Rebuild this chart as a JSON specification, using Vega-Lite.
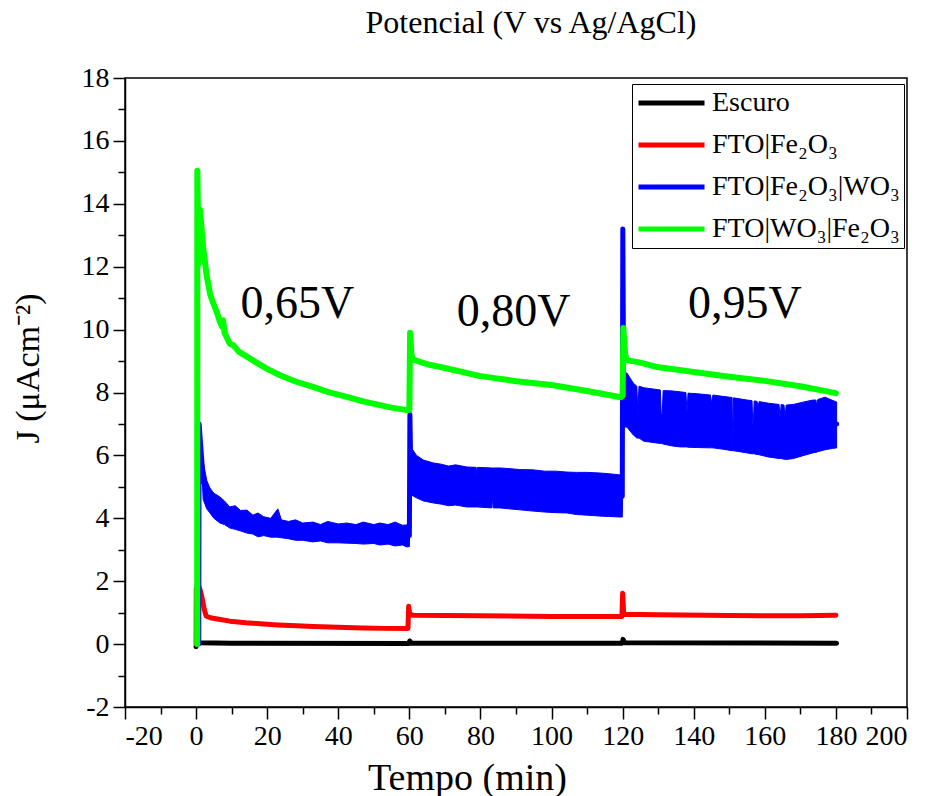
{
  "$schema": "https://vega.github.io/schema/vega-lite/v6.json",
  "width": 782,
  "height": 629,
  "autosize": {"type": "none"},
  "padding": {"left": 125, "top": 78, "right": 23, "bottom": 89},
  "background": "white",
  "config": {"view": {"stroke": "black", "strokeWidth": 1.5}, "font": "Liberation Serif"},
  "title": {"text": "Potencial (V vs Ag/AgCl)", "font": "Liberation Serif", "fontSize": 32, "fontWeight": "normal", "color": "black", "anchor": "middle", "frame": "group", "dx": 15, "offset": -1, "baseline": "alphabetic"},
  "datasets": {
    "lines": [
      {"s": "Escuro", "t": 0, "y": -0.08}, {"s": "Escuro", "t": 0.3, "y": 0.1}, {"s": "Escuro", "t": 1, "y": 0.04}, {"s": "Escuro", "t": 10, "y": 0.03}, {"s": "Escuro", "t": 59.9, "y": 0.02}, {"s": "Escuro", "t": 60.1, "y": 0.1}, {"s": "Escuro", "t": 60.6, "y": 0.03}, {"s": "Escuro", "t": 119.9, "y": 0.03}, {"s": "Escuro", "t": 120.1, "y": 0.15}, {"s": "Escuro", "t": 120.6, "y": 0.04}, {"s": "Escuro", "t": 180.2, "y": 0.03},
      {"s": "FTO|Fe₂O₃", "t": 0, "y": 0.0}, {"s": "FTO|Fe₂O₃", "t": 0.05, "y": 1.75}, {"s": "FTO|Fe₂O₃", "t": 0.5, "y": 1.92}, {"s": "FTO|Fe₂O₃", "t": 1.2, "y": 1.7}, {"s": "FTO|Fe₂O₃", "t": 1.8, "y": 1.4}, {"s": "FTO|Fe₂O₃", "t": 2.3, "y": 1.1}, {"s": "FTO|Fe₂O₃", "t": 2.8, "y": 0.9}, {"s": "FTO|Fe₂O₃", "t": 3.3, "y": 0.87}, {"s": "FTO|Fe₂O₃", "t": 4, "y": 0.84}, {"s": "FTO|Fe₂O₃", "t": 6, "y": 0.8}, {"s": "FTO|Fe₂O₃", "t": 9.5, "y": 0.73}, {"s": "FTO|Fe₂O₃", "t": 14, "y": 0.68}, {"s": "FTO|Fe₂O₃", "t": 18.9, "y": 0.64}, {"s": "FTO|Fe₂O₃", "t": 23, "y": 0.61}, {"s": "FTO|Fe₂O₃", "t": 28.3, "y": 0.58}, {"s": "FTO|Fe₂O₃", "t": 33, "y": 0.56}, {"s": "FTO|Fe₂O₃", "t": 37.7, "y": 0.54}, {"s": "FTO|Fe₂O₃", "t": 42, "y": 0.53}, {"s": "FTO|Fe₂O₃", "t": 47, "y": 0.51}, {"s": "FTO|Fe₂O₃", "t": 53, "y": 0.5}, {"s": "FTO|Fe₂O₃", "t": 59.6, "y": 0.5}, {"s": "FTO|Fe₂O₃", "t": 59.8, "y": 1.2}, {"s": "FTO|Fe₂O₃", "t": 60.1, "y": 0.95}, {"s": "FTO|Fe₂O₃", "t": 61, "y": 0.92}, {"s": "FTO|Fe₂O₃", "t": 80, "y": 0.9}, {"s": "FTO|Fe₂O₃", "t": 100, "y": 0.88}, {"s": "FTO|Fe₂O₃", "t": 119.8, "y": 0.88}, {"s": "FTO|Fe₂O₃", "t": 120, "y": 1.62}, {"s": "FTO|Fe₂O₃", "t": 120.3, "y": 0.95}, {"s": "FTO|Fe₂O₃", "t": 130, "y": 0.93}, {"s": "FTO|Fe₂O₃", "t": 150, "y": 0.91}, {"s": "FTO|Fe₂O₃", "t": 170, "y": 0.9}, {"s": "FTO|Fe₂O₃", "t": 180, "y": 0.92},
      {"s": "FTO|Fe₂O₃|WO₃", "t": 0.75, "y": 0}, {"s": "FTO|Fe₂O₃|WO₃", "t": 0.85, "y": 7.0}, {"s": "FTO|Fe₂O₃|WO₃", "t": 1.3, "y": 6.3}, {"s": "FTO|Fe₂O₃|WO₃", "t": 2, "y": 5.2}, {"s": "FTO|Fe₂O₃|WO₃", "t": 3.9, "y": 4.55}, {"s": "FTO|Fe₂O₃|WO₃", "t": 6.7, "y": 4.25}, {"s": "FTO|Fe₂O₃|WO₃", "t": 14, "y": 3.9}, {"s": "FTO|Fe₂O₃|WO₃", "t": 30, "y": 3.6}, {"s": "FTO|Fe₂O₃|WO₃", "t": 60, "y": 3.45}, {"s": "FTO|Fe₂O₃|WO₃", "t": 60.15, "y": 7.3}, {"s": "FTO|Fe₂O₃|WO₃", "t": 60.4, "y": 5.6}, {"s": "FTO|Fe₂O₃|WO₃", "t": 66.7, "y": 5.1}, {"s": "FTO|Fe₂O₃|WO₃", "t": 90, "y": 4.9}, {"s": "FTO|Fe₂O₃|WO₃", "t": 119.9, "y": 4.7}, {"s": "FTO|Fe₂O₃|WO₃", "t": 120.05, "y": 13.2}, {"s": "FTO|Fe₂O₃|WO₃", "t": 120.3, "y": 7.8}, {"s": "FTO|Fe₂O₃|WO₃", "t": 130, "y": 7.25}, {"s": "FTO|Fe₂O₃|WO₃", "t": 150, "y": 7.0}, {"s": "FTO|Fe₂O₃|WO₃", "t": 166, "y": 6.75}, {"s": "FTO|Fe₂O₃|WO₃", "t": 180.2, "y": 7.0},
      {"s": "FTO|WO₃|Fe₂O₃", "t": 0.3, "y": 0.0}, {"s": "FTO|WO₃|Fe₂O₃", "t": 0.35, "y": 15.05}, {"s": "FTO|WO₃|Fe₂O₃", "t": 0.7, "y": 12.1}, {"s": "FTO|WO₃|Fe₂O₃", "t": 1.1, "y": 13.8}, {"s": "FTO|WO₃|Fe₂O₃", "t": 2, "y": 12.6}, {"s": "FTO|WO₃|Fe₂O₃", "t": 3, "y": 11.7}, {"s": "FTO|WO₃|Fe₂O₃", "t": 4, "y": 11.1}, {"s": "FTO|WO₃|Fe₂O₃", "t": 4.85, "y": 10.84}, {"s": "FTO|WO₃|Fe₂O₃", "t": 6, "y": 10.5}, {"s": "FTO|WO₃|Fe₂O₃", "t": 6.7, "y": 10.25}, {"s": "FTO|WO₃|Fe₂O₃", "t": 7.3, "y": 10.1}, {"s": "FTO|WO₃|Fe₂O₃", "t": 7.6, "y": 10.3}, {"s": "FTO|WO₃|Fe₂O₃", "t": 8, "y": 9.9}, {"s": "FTO|WO₃|Fe₂O₃", "t": 9.5, "y": 9.55}, {"s": "FTO|WO₃|Fe₂O₃", "t": 10.5, "y": 9.5}, {"s": "FTO|WO₃|Fe₂O₃", "t": 12, "y": 9.3}, {"s": "FTO|WO₃|Fe₂O₃", "t": 14.2, "y": 9.15}, {"s": "FTO|WO₃|Fe₂O₃", "t": 17, "y": 8.95}, {"s": "FTO|WO₃|Fe₂O₃", "t": 20, "y": 8.75}, {"s": "FTO|WO₃|Fe₂O₃", "t": 23.6, "y": 8.55}, {"s": "FTO|WO₃|Fe₂O₃", "t": 28, "y": 8.35}, {"s": "FTO|WO₃|Fe₂O₃", "t": 32.9, "y": 8.18}, {"s": "FTO|WO₃|Fe₂O₃", "t": 37, "y": 8.02}, {"s": "FTO|WO₃|Fe₂O₃", "t": 42.4, "y": 7.86}, {"s": "FTO|WO₃|Fe₂O₃", "t": 47, "y": 7.72}, {"s": "FTO|WO₃|Fe₂O₃", "t": 51.7, "y": 7.6}, {"s": "FTO|WO₃|Fe₂O₃", "t": 55, "y": 7.52}, {"s": "FTO|WO₃|Fe₂O₃", "t": 59.3, "y": 7.44}, {"s": "FTO|WO₃|Fe₂O₃", "t": 60.0, "y": 7.45}, {"s": "FTO|WO₃|Fe₂O₃", "t": 60.2, "y": 9.9}, {"s": "FTO|WO₃|Fe₂O₃", "t": 60.6, "y": 9.2}, {"s": "FTO|WO₃|Fe₂O₃", "t": 61, "y": 9.05}, {"s": "FTO|WO₃|Fe₂O₃", "t": 65, "y": 8.9}, {"s": "FTO|WO₃|Fe₂O₃", "t": 70, "y": 8.78}, {"s": "FTO|WO₃|Fe₂O₃", "t": 80, "y": 8.52}, {"s": "FTO|WO₃|Fe₂O₃", "t": 90, "y": 8.36}, {"s": "FTO|WO₃|Fe₂O₃", "t": 100, "y": 8.24}, {"s": "FTO|WO₃|Fe₂O₃", "t": 110, "y": 8.05}, {"s": "FTO|WO₃|Fe₂O₃", "t": 119.5, "y": 7.85}, {"s": "FTO|WO₃|Fe₂O₃", "t": 120.0, "y": 7.9}, {"s": "FTO|WO₃|Fe₂O₃", "t": 120.2, "y": 10.05}, {"s": "FTO|WO₃|Fe₂O₃", "t": 120.7, "y": 9.2}, {"s": "FTO|WO₃|Fe₂O₃", "t": 121.2, "y": 9.03}, {"s": "FTO|WO₃|Fe₂O₃", "t": 125, "y": 8.95}, {"s": "FTO|WO₃|Fe₂O₃", "t": 129.7, "y": 8.81}, {"s": "FTO|WO₃|Fe₂O₃", "t": 140, "y": 8.65}, {"s": "FTO|WO₃|Fe₂O₃", "t": 150, "y": 8.5}, {"s": "FTO|WO₃|Fe₂O₃", "t": 160, "y": 8.37}, {"s": "FTO|WO₃|Fe₂O₃", "t": 170, "y": 8.2}, {"s": "FTO|WO₃|Fe₂O₃", "t": 180, "y": 7.98}
    ],
    "band": [
      {"t": 1.6, "y": 5.6, "hi": 6.3}, {"t": 2.0, "y": 4.6, "hi": 5.8}, {"t": 3.0, "y": 4.3, "hi": 5.2}, {"t": 3.9, "y": 4.17, "hi": 4.96}, {"t": 5.0, "y": 4.0, "hi": 4.8}, {"t": 6.7, "y": 3.85, "hi": 4.68}, {"t": 8.0, "y": 3.8, "hi": 4.55}, {"t": 9.5, "y": 3.69, "hi": 4.36}, {"t": 11, "y": 3.65, "hi": 4.4}, {"t": 12.5, "y": 3.6, "hi": 4.25}, {"t": 14.3, "y": 3.53, "hi": 4.26}, {"t": 16, "y": 3.5, "hi": 4.1}, {"t": 17.4, "y": 3.41, "hi": 4.17}, {"t": 19, "y": 3.45, "hi": 4.05}, {"t": 21, "y": 3.4, "hi": 4.0}, {"t": 23, "y": 3.4, "hi": 4.3}, {"t": 24, "y": 3.38, "hi": 3.95}, {"t": 26, "y": 3.35, "hi": 3.9}, {"t": 28, "y": 3.3, "hi": 3.95}, {"t": 30, "y": 3.3, "hi": 3.85}, {"t": 32.9, "y": 3.25, "hi": 3.88}, {"t": 35, "y": 3.28, "hi": 3.8}, {"t": 37, "y": 3.22, "hi": 3.9}, {"t": 40, "y": 3.22, "hi": 3.82}, {"t": 42.4, "y": 3.21, "hi": 3.85}, {"t": 45, "y": 3.2, "hi": 3.8}, {"t": 47, "y": 3.18, "hi": 3.88}, {"t": 50, "y": 3.2, "hi": 3.8}, {"t": 51.7, "y": 3.15, "hi": 3.85}, {"t": 54, "y": 3.18, "hi": 3.8}, {"t": 56, "y": 3.12, "hi": 3.88}, {"t": 58, "y": 3.15, "hi": 3.78}, {"t": 59.3, "y": 3.09, "hi": 3.79}, {"t": 60.0, "y": 3.1, "hi": 3.8},
      {"t": 60.3, "y": 4.74, "hi": 6.5}, {"t": 60.6, "y": 4.74, "hi": 6.24}, {"t": 62, "y": 4.65, "hi": 6.0}, {"t": 64, "y": 4.55, "hi": 5.85}, {"t": 66.7, "y": 4.49, "hi": 5.76}, {"t": 69, "y": 4.45, "hi": 5.72}, {"t": 71, "y": 4.4, "hi": 5.66}, {"t": 73, "y": 4.42, "hi": 5.7}, {"t": 76.2, "y": 4.36, "hi": 5.63}, {"t": 78.8, "y": 4.36, "hi": 5.62}, {"t": 79.0, "y": 4.36, "hi": 5.38}, {"t": 79.2, "y": 4.36, "hi": 5.62}, {"t": 83.2, "y": 4.33, "hi": 5.6}, {"t": 83.4, "y": 4.68, "hi": 5.6}, {"t": 83.6, "y": 4.33, "hi": 5.6}, {"t": 85.5, "y": 4.33, "hi": 5.6}, {"t": 88, "y": 4.3, "hi": 5.58}, {"t": 91, "y": 4.27, "hi": 5.55}, {"t": 94.8, "y": 4.23, "hi": 5.54}, {"t": 98, "y": 4.2, "hi": 5.5}, {"t": 101, "y": 4.18, "hi": 5.5}, {"t": 104.3, "y": 4.17, "hi": 5.47}, {"t": 107, "y": 4.12, "hi": 5.46}, {"t": 110, "y": 4.1, "hi": 5.46}, {"t": 113.6, "y": 4.07, "hi": 5.44}, {"t": 116, "y": 4.06, "hi": 5.42}, {"t": 119.3, "y": 4.04, "hi": 5.38}, {"t": 119.9, "y": 4.04, "hi": 5.4},
      {"t": 120.3, "y": 6.9, "hi": 8.6}, {"t": 121.2, "y": 6.9, "hi": 8.62}, {"t": 123.0, "y": 6.65, "hi": 8.3}, {"t": 124.0, "y": 6.55, "hi": 8.2}, {"t": 124.3, "y": 6.55, "hi": 7.35}, {"t": 124.6, "y": 6.55, "hi": 8.2}, {"t": 126, "y": 6.45, "hi": 8.15}, {"t": 128, "y": 6.42, "hi": 8.12}, {"t": 130.6, "y": 6.38, "hi": 8.08}, {"t": 131.0, "y": 6.38, "hi": 6.9}, {"t": 131.4, "y": 6.36, "hi": 8.06}, {"t": 134, "y": 6.3, "hi": 8.05}, {"t": 136.2, "y": 6.27, "hi": 8.02}, {"t": 137.8, "y": 6.27, "hi": 8.0}, {"t": 138.1, "y": 6.27, "hi": 7.35}, {"t": 138.4, "y": 6.26, "hi": 7.98}, {"t": 141, "y": 6.25, "hi": 7.96}, {"t": 144.7, "y": 6.24, "hi": 7.92}, {"t": 145.0, "y": 6.24, "hi": 7.67}, {"t": 145.4, "y": 6.24, "hi": 7.92}, {"t": 148, "y": 6.2, "hi": 7.88}, {"t": 150.8, "y": 6.15, "hi": 7.84}, {"t": 151.0, "y": 6.15, "hi": 6.27}, {"t": 151.2, "y": 6.15, "hi": 7.83}, {"t": 155, "y": 6.08, "hi": 7.76}, {"t": 156.4, "y": 6.05, "hi": 7.74}, {"t": 156.7, "y": 6.05, "hi": 6.7}, {"t": 157.0, "y": 6.05, "hi": 7.73}, {"t": 157.8, "y": 6.03, "hi": 7.72}, {"t": 158.1, "y": 6.03, "hi": 7.55}, {"t": 158.4, "y": 6.02, "hi": 7.71}, {"t": 161, "y": 5.95, "hi": 7.66}, {"t": 164.0, "y": 5.9, "hi": 7.62}, {"t": 164.3, "y": 5.9, "hi": 7.2}, {"t": 164.6, "y": 5.9, "hi": 7.62}, {"t": 165.4, "y": 5.88, "hi": 7.6}, {"t": 165.7, "y": 5.88, "hi": 7.2}, {"t": 166.0, "y": 5.87, "hi": 7.6}, {"t": 168, "y": 5.9, "hi": 7.62}, {"t": 171, "y": 6.0, "hi": 7.7}, {"t": 173.5, "y": 6.08, "hi": 7.76}, {"t": 174.4, "y": 6.1, "hi": 7.76}, {"t": 174.6, "y": 6.1, "hi": 7.55}, {"t": 174.9, "y": 6.12, "hi": 7.78}, {"t": 177, "y": 6.18, "hi": 7.85}, {"t": 179, "y": 6.22, "hi": 7.75}, {"t": 180.2, "y": 6.24, "hi": 7.7}
    ],
    "labels": [
      {"t": 28.5, "y": 10.37, "label": "0,65V"},
      {"t": 89.3, "y": 10.11, "label": "0,80V"},
      {"t": 154.4, "y": 10.37, "label": "0,95V"}
    ]
  },
  "encoding": {
    "x": {
      "field": "t", "type": "quantitative", "title": "Tempo (min)",
      "scale": {"domain": [-20, 200], "nice": false, "zero": false},
      "axis": {
        "values": [-20, -10, 0, 10, 20, 30, 40, 50, 60, 70, 80, 90, 100, 110, 120, 130, 140, 150, 160, 170, 180, 190, 200],
        "labelExpr": "datum.value % 20 === 0 ? '' + datum.value : ''",
        "labelOverlap": false, "grid": false,
        "domainColor": "black", "domainWidth": 1.5, "tickColor": "black", "tickWidth": 1.5,
        "tickSize": {"condition": {"test": "datum.value % 20 === 0", "value": 12}, "value": 7},
        "labelFont": "Liberation Serif", "labelFontSize": 28, "labelColor": "black", "labelPadding": 3,
        "titleFont": "Liberation Serif", "titleFontSize": 38, "titleFontWeight": "normal", "titleColor": "black",
        "titleX": 342, "titleY": 82, "titleBaseline": "alphabetic", "titleAlign": "center"
      }
    },
    "y": {
      "field": "y", "type": "quantitative", "title": "J (μAcm⁻²)",
      "scale": {"domain": [-2, 18], "nice": false, "zero": false},
      "axis": {
        "values": [-2, -1, 0, 1, 2, 3, 4, 5, 6, 7, 8, 9, 10, 11, 12, 13, 14, 15, 16, 17, 18],
        "labelExpr": "datum.value % 2 === 0 ? '' + datum.value : ''",
        "labelOverlap": false, "grid": false,
        "domainColor": "black", "domainWidth": 1.5, "tickColor": "black", "tickWidth": 1.5,
        "tickSize": {"condition": {"test": "datum.value % 2 === 0", "value": 12}, "value": 7},
        "labelFont": "Liberation Serif", "labelFontSize": 28, "labelColor": "black", "labelPadding": 4,
        "titleFont": "Liberation Serif", "titleFontSize": 34, "titleFontWeight": "normal", "titleColor": "black",
        "titleX": -87, "titleY": 290, "titleBaseline": "alphabetic", "titleAlign": "center", "titleAngle": 270
      }
    }
  },
  "layer": [
    {
      "data": {"name": "band"},
      "mark": {"type": "area", "color": "#0000ff", "opacity": 1, "stroke": "#0000ff", "strokeWidth": 1},
      "encoding": {"y2": {"field": "hi"}}
    },
    {
      "data": {"name": "lines"},
      "transform": [{"filter": "datum.s !== 'FTO|WO₃|Fe₂O₃'"}],
      "mark": {"type": "line", "strokeWidth": 5, "strokeJoin": "round", "strokeCap": "round"},
      "encoding": {
        "color": {
          "field": "s", "type": "nominal",
          "scale": {"domain": ["Escuro", "FTO|Fe₂O₃", "FTO|Fe₂O₃|WO₃", "FTO|WO₃|Fe₂O₃"], "range": ["#000000", "#ff0000", "#0000ff", "#00ff00"]},
          "legend": {
            "title": null, "orient": "none", "legendX": 507, "legendY": 6,
            "strokeColor": "black", "fillColor": "white", "padding": 4,
            "symbolType": "stroke", "symbolSize": 4356, "symbolStrokeWidth": 5,
            "labelFont": "Liberation Serif", "labelFontSize": 28, "labelColor": "black", "labelOffset": 5,
            "clipHeight": 30, "rowPadding": 12, "labelLimit": 400
          }
        }
      }
    },
    {
      "data": {"name": "lines"},
      "transform": [{"filter": "datum.s === 'FTO|WO₃|Fe₂O₃'"}],
      "mark": {"type": "line", "strokeWidth": 6, "strokeJoin": "round", "strokeCap": "round"},
      "encoding": {"color": {"field": "s", "type": "nominal"}}
    },
    {
      "data": {"name": "labels"},
      "mark": {"type": "text", "font": "Liberation Serif", "fontSize": 46, "baseline": "alphabetic", "align": "center", "color": "black"},
      "encoding": {"text": {"field": "label"}}
    }
  ]
}
